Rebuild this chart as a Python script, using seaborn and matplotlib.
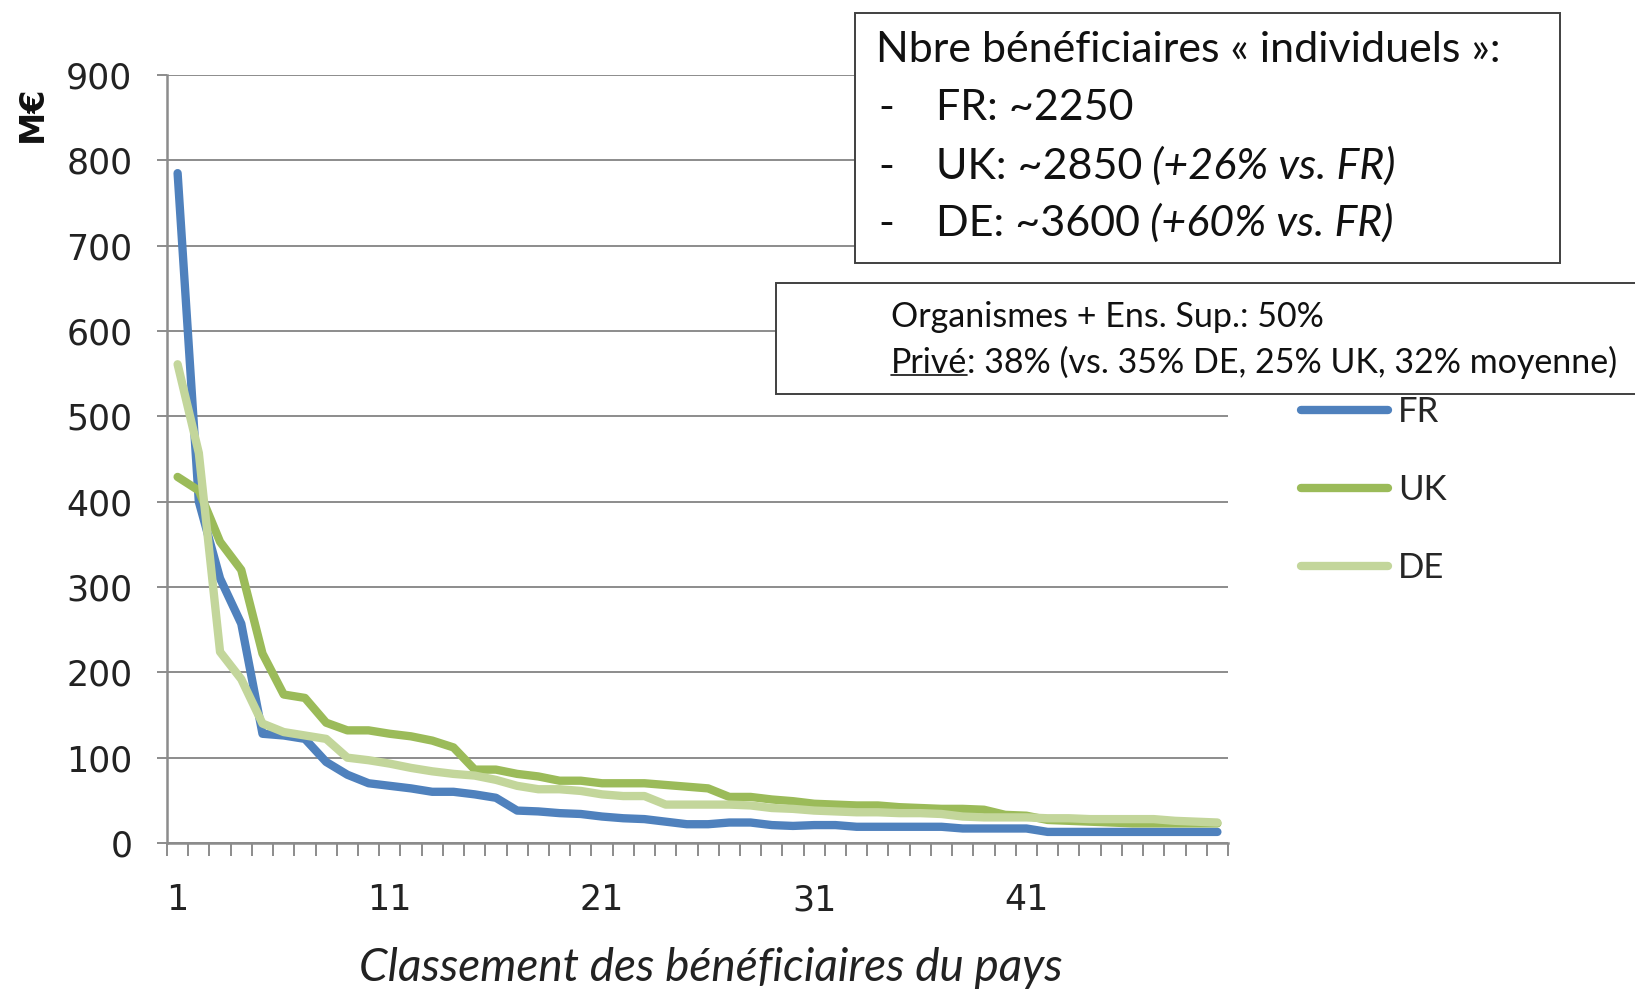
import numpy as np
import pandas as pd
import matplotlib
matplotlib.use('Agg')
import matplotlib.pyplot as plt
import seaborn as sns
from matplotlib.patches import Rectangle
from matplotlib.lines import Line2D
from matplotlib.text import Annotation
from matplotlib.transforms import IdentityTransform

# Données (M€ par bénéficiaire, classés)
rang = list(range(1, 51))
fr = [785, 400, 310, 257, 128, 126, 122, 95, 80, 70,
      67, 64, 60, 60, 57, 53, 38, 37, 35, 34,
      31, 29, 28, 25, 22, 22, 24, 24, 21, 20,
      21, 21, 19, 19, 19, 19, 19, 17, 17, 17,
      17, 13, 13, 13, 13, 13, 13, 13, 13, 13]
uk = [429, 413, 353, 320, 222, 174, 170, 141, 132, 132,
      128, 125, 120, 112, 86, 86, 81, 78, 73, 73,
      70, 70, 70, 68, 66, 64, 54, 54, 51, 49,
      46, 45, 44, 44, 42, 41, 40, 40, 39, 33,
      32, 27, 26, 25, 24, 23, 23, 23, 23, 23]
de = [561, 457, 224, 192, 140, 130, 126, 122, 100, 97,
      93, 88, 84, 81, 79, 74, 67, 63, 63, 61,
      57, 55, 55, 45, 45, 45, 45, 44, 41, 40,
      38, 37, 36, 36, 35, 35, 34, 31, 30, 30,
      30, 29, 29, 28, 28, 28, 28, 26, 25, 24]
pays = ['FR', 'UK', 'DE']
couleurs = ['#4F81BD', '#9BBB59', '#C3D69B']
xticks = [1, 11, 21, 31, 41]
yticks = list(range(0, 1000, 100))

df = pd.DataFrame({
    'Rang': rang * 3,
    'Montant': fr + uk + de,
    'Pays': ['FR'] * 50 + ['UK'] * 50 + ['DE'] * 50,
})

sns.set_theme(style='white')
plt.rcParams['font.family'] = ['DejaVu Sans']

W, H = 1635, 990
fig = plt.figure(figsize=(W / 100, H / 100), dpi=100)
ax = fig.add_axes([167 / W, 1 - 843 / H, (1228 - 167) / W, (843 - 75) / H])

sns.lineplot(data=df, x='Rang', y='Montant', hue='Pays', hue_order=pays,
             palette=couleurs, linewidth=6, ax=ax,
             solid_capstyle='round', solid_joinstyle='round')

gris = '#8C8C8C'
ax.set_xlim(0.5, 50.5)
ax.set_ylim(0, 900)
ax.set_yticks(yticks)
ax.set_xticks(xticks)
ax.set_xticks(np.arange(0.5, 51, 1), minor=True)
ax.yaxis.grid(True, color=gris, lw=1.4)
ax.set_axisbelow(True)
for s in ['top', 'right']:
    ax.spines[s].set_visible(False)
for s in ['left', 'bottom']:
    ax.spines[s].set_color(gris)
    ax.spines[s].set_linewidth(1.8)
ax.tick_params(axis='y', which='major', length=7, width=1.4, color=gris,
               labelsize=25, pad=18, left=True, labelcolor='#222222')
ax.tick_params(axis='x', which='major', length=0, labelsize=25, pad=29,
               labelcolor='#222222')
ax.tick_params(axis='x', which='minor', length=9, width=1.4, color=gris,
               bottom=True)
ax.set_xlabel('')
ax.set_ylabel('')

# Légende à droite du graphique
handles, labels = ax.get_legend_handles_labels()
ax.legend(handles, labels, loc='upper left', bbox_to_anchor=(1301 / W, 1 - 396 / H),
          bbox_transform=fig.transFigure, frameon=False,
          prop={'family': 'Lato', 'size': 25}, handlelength=2.5,
          handletextpad=0.3, labelspacing=1.32, borderpad=0, borderaxespad=0)

fig.text(32 / W, 1 - 114 / H, 'M€', rotation=90, weight='bold', size=24,
         ha='center', va='center', color='#111111')
fig.text(711 / W, 1 - 968 / H, 'Classement des bénéficiaires du pays',
         ha='center', va='center', style='italic', family='Lato', size=33,
         color='#222222')

# Encadrés
fig.add_artist(Rectangle((855 / W, 1 - 263 / H), 705 / W, 250 / H,
                         transform=fig.transFigure, facecolor='white',
                         edgecolor='#404040', lw=1.4, zorder=2))
fig.add_artist(Rectangle((776 / W, 1 - 394 / H), 870 / W, 111 / H,
                         transform=fig.transFigure, facecolor='white',
                         edgecolor='#404040', lw=1.4, zorder=2))

txt = dict(family='Lato', size=31, color='#111111', va='center', zorder=4)
fig.text(876 / W, 1 - 50 / H, 'Nbre bénéficiaires « individuels »:', **txt)


def ligne(y, debut, italique=None):
    fig.text(878 / W, 1 - y / H, '-', **txt)
    t = fig.text(936 / W, 1 - y / H, debut, **txt)
    if italique:
        fig.add_artist(Annotation(italique, xy=(1, 0), xycoords=t,
                                  va='bottom', ha='left', style='italic',
                                  family='Lato', size=31, color='#111111',
                                  zorder=4))


ligne(108, 'FR: ~2250')
ligne(167, 'UK: ~2850', ' (+26% vs. FR)')
ligne(224, 'DE: ~3600', ' (+60% vs. FR)')

txt2 = dict(family='Lato', size=24.5, color='#111111', va='center', zorder=4)
fig.text(891 / W, 1 - 317 / H, 'Organismes + Ens. Sup.: 50%', **txt2)
tp = fig.text(891 / W, 1 - 363 / H, 'Privé', **txt2)
fig.add_artist(Annotation(': 38% (vs. 35% DE, 25% UK, 32% moyenne)', xy=(1, 0),
                          xycoords=tp, va='bottom', ha='left', family='Lato',
                          size=24.5, color='#111111', zorder=4))

# Soulignement de « Privé »
r = fig.canvas.get_renderer()
bb = tp.get_window_extent(r)
fig.add_artist(Line2D([bb.x0, bb.x1], [bb.y0 + 4, bb.y0 + 4], transform=IdentityTransform(),
                      color='#111111', lw=1.2, zorder=4))

fig.savefig('out.png', dpi=100)
